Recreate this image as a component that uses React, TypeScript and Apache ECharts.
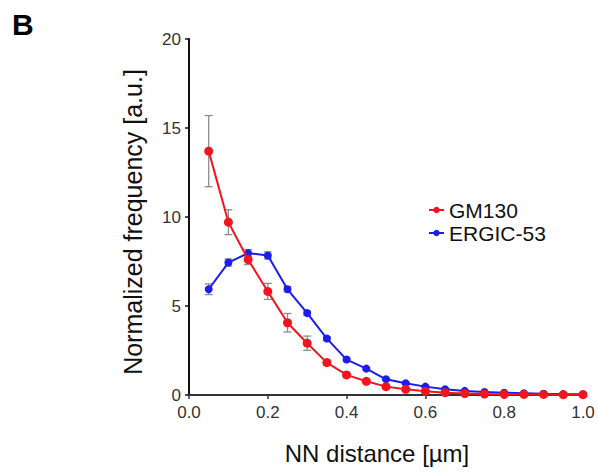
import React, { useEffect, useRef } from "react";
import * as echarts from "echarts";

const xValues = [0.05, 0.1, 0.15, 0.2, 0.25, 0.3, 0.35, 0.4, 0.45, 0.5, 0.55, 0.6, 0.65, 0.7, 0.75, 0.8, 0.85, 0.9, 0.95, 1.0];
const gm130 = [13.7, 9.71, 7.61, 5.82, 4.06, 2.91, 1.82, 1.13, 0.77, 0.47, 0.32, 0.21, 0.13, 0.08, 0.05, 0.04, 0.03, 0.03, 0.02, 0.02];
const gm130Err = [2.0, 0.7, 0.28, 0.45, 0.52, 0.4, 0.15, 0.1, 0.08, 0.05, 0.04, 0.03, 0.02, 0.02, 0.01, 0.01, 0.01, 0.01, 0.01, 0.01];
const ergic = [5.94, 7.44, 7.97, 7.84, 5.94, 4.6, 3.17, 1.99, 1.48, 0.88, 0.66, 0.47, 0.32, 0.23, 0.17, 0.13, 0.1, 0.07, 0.05, 0.04];
const ergicErr = [0.3, 0.2, 0.2, 0.2, 0.15, 0.12, 0.1, 0.08, 0.06, 0.05, 0.04, 0.03, 0.02, 0.02, 0.01, 0.01, 0.01, 0.01, 0.01, 0.01];
const xTicks = [0, 0.2, 0.4, 0.6, 0.8, 1.0];
const yTicks = [0, 5, 10, 15, 20];

const RED = "#f5141e";
const BLUE = "#1c1cf0";
const FONT = "'Liberation Sans', Arial, sans-serif";

function errData(vals: number[], errs: number[]) {
  return xValues.map((x, i) => [x, vals[i], errs[i]]);
}

function errRender(params: any, api: any) {
  const x = api.value(0);
  const y = api.value(1);
  const e = api.value(2);
  const top = api.coord([x, y + e]);
  const bot = api.coord([x, y - e]);
  const w = 4;
  const style = { stroke: "#8c8c8c", lineWidth: 1.3 };
  return {
    type: "group",
    children: [
      { type: "line", shape: { x1: top[0], y1: top[1], x2: bot[0], y2: bot[1] }, style },
      { type: "line", shape: { x1: top[0] - w, y1: top[1], x2: top[0] + w, y2: top[1] }, style },
      { type: "line", shape: { x1: bot[0] - w, y1: bot[1], x2: bot[0] + w, y2: bot[1] }, style },
    ],
  };
}

export default function App() {
  const ref = useRef<HTMLDivElement>(null);
  useEffect(() => {
    if (!ref.current) return;
    const chart = echarts.init(ref.current, null, { renderer: "svg" });
    chart.setOption({
      animation: false,
      backgroundColor: "#ffffff",
      textStyle: { fontFamily: FONT },
      grid: { left: 189, right: 15, top: 39, bottom: 78 },
      legend: {
        orient: "vertical",
        left: 428,
        top: 199,
        padding: 0,
        itemGap: 1,
        itemWidth: 15,
        itemHeight: 8,
        data: ["GM130", "ERGIC-53"],
        textStyle: { fontSize: 21, color: "#111", fontFamily: FONT, lineHeight: 22, padding: [0, 0, 0, 0] },
      },
      xAxis: {
        type: "value",
        min: 0,
        max: 1,
        interval: 0.2,
        axisLine: { lineStyle: { color: "#333", width: 2 } },
        axisTick: { show: true, length: 4, lineStyle: { color: "#333", width: 1.5 } },
        axisLabel: {
          fontSize: 17,
          color: "#333",
          margin: 9,
          formatter: (v: number) => {
            const t = xTicks.find((k) => Math.abs(k - v) < 1e-9);
            return t === undefined ? "" : t.toFixed(1);
          },
        },
        splitLine: { show: false },
      },
      yAxis: {
        type: "value",
        min: 0,
        max: 20,
        interval: 5,
        axisLine: { show: true, lineStyle: { color: "#111", width: 2 } },
        axisTick: { show: true, length: 4, lineStyle: { color: "#111", width: 1.5 } },
        axisLabel: {
          fontSize: 17,
          color: "#333",
          margin: 8,
          formatter: (v: number) => {
            const t = yTicks.find((k) => k === v);
            return t === undefined ? "" : String(t);
          },
        },
        splitLine: { show: false },
      },
      graphic: [
        {
          type: "text",
          left: 12,
          top: 9,
          style: { text: "B", font: `bold 30px ${FONT}`, fill: "#000" },
        },
        {
          type: "text",
          x: 377,
          y: 453,
          style: { text: "NN distance [µm]", font: `24px ${FONT}`, fill: "#111", textAlign: "center", textVerticalAlign: "middle" },
        },
        {
          type: "text",
          x: 133,
          y: 222,
          rotation: Math.PI / 2,
          style: { text: "Normalized frequency [a.u.]", font: `25px ${FONT}`, fill: "#111", textAlign: "center", textVerticalAlign: "middle" },
        },
      ],
      series: [
        {
          type: "custom",
          name: "errGM",
          renderItem: errRender,
          data: errData(gm130, gm130Err),
          z: 1,
          silent: true,
        },
        {
          type: "custom",
          name: "errER",
          renderItem: errRender,
          data: errData(ergic, ergicErr),
          z: 1,
          silent: true,
        },
        {
          type: "line",
          name: "ERGIC-53",
          data: xValues.map((x, i) => [x, ergic[i]]),
          symbol: "circle",
          symbolSize: 8,
          lineStyle: { color: BLUE, width: 2 },
          itemStyle: { color: BLUE },
          z: 2,
        },
        {
          type: "line",
          name: "GM130",
          data: xValues.map((x, i) => [x, gm130[i]]),
          symbol: "circle",
          symbolSize: 9,
          lineStyle: { color: RED, width: 2 },
          itemStyle: { color: RED },
          z: 3,
        },
      ],
    });
    return () => chart.dispose();
  }, []);
  return <div ref={ref} style={{ position: "fixed", left: 0, top: 0, width: 598, height: 473 }} />;
}
